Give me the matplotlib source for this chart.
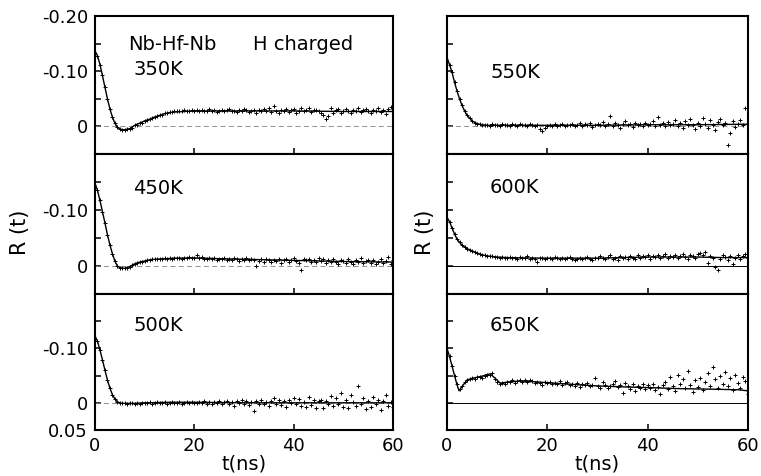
import numpy as np
import matplotlib
matplotlib.use('Agg')
import matplotlib.pyplot as plt

# fitted curves, R(t)
c350_t = [0, 0.5, 1, 1.5, 2, 2.5, 3, 3.5, 4, 4.5, 5, 5.5, 6, 7, 8, 9, 10, 11, 12, 13, 14, 15, 16, 18, 20, 25, 30, 40, 50, 60]
c350_r = [-0.137, -0.128, -0.112, -0.092, -0.071, -0.050, -0.032, -0.017, -0.006, 0.001, 0.005, 0.006, 0.006, 0.004,
          -0.002, -0.006, -0.010, -0.013, -0.017, -0.020, -0.023, -0.025, -0.026, -0.027, -0.028, -0.028, -0.028,
          -0.028, -0.027, -0.027]

c450_t = [0, 0.5, 1, 1.5, 2, 2.5, 3, 3.5, 4, 4.5, 5, 5.5, 6, 7, 8, 9, 10, 11, 12, 14, 16, 20, 25, 30, 40, 50, 60]
c450_r = [-0.148, -0.135, -0.117, -0.097, -0.077, -0.056, -0.038, -0.022, -0.009, 0.000, 0.003, 0.004, 0.004, 0.001,
          -0.004, -0.007, -0.009, -0.011, -0.012, -0.013, -0.014, -0.0145, -0.013, -0.012, -0.010, -0.008, -0.007]

c500_t = [0, 0.5, 1, 1.5, 2, 2.5, 3, 3.5, 4, 4.5, 5, 5.5, 6, 7, 8, 10, 15, 20, 30, 40, 50, 60]
c500_r = [-0.123, -0.113, -0.097, -0.079, -0.060, -0.042, -0.027, -0.015, -0.007, -0.002, 0.000, 0.001, 0.001, 0.001,
          0.001, 0.000, -0.001, -0.001, 0.000, 0.000, 0.000, 0.000]

c550_t = [0, 0.5, 1, 1.5, 2, 2.5, 3, 3.5, 4, 5, 6, 7, 8, 10, 15, 20, 30, 40, 50, 60]
c550_r = [-0.125, -0.112, -0.098, -0.080, -0.064, -0.050, -0.038, -0.028, -0.020, -0.010, -0.005, -0.003, -0.002,
          -0.002, -0.002, -0.002, -0.002, -0.003, -0.003, -0.004]

c600_t = [0, 0.5, 1, 1.5, 2, 2.5, 3, 4, 5, 6, 7, 8, 9, 10, 12, 15, 20, 25, 30, 35, 40, 45, 50, 55, 60]
c600_r = [-0.087, -0.079, -0.068, -0.057, -0.048, -0.042, -0.037, -0.031, -0.027, -0.023, -0.020, -0.018, -0.017,
          -0.016, -0.015, -0.0145, -0.014, -0.014, -0.014, -0.015, -0.016, -0.016, -0.016, -0.015, -0.015]

c650_t = [0, 0.5, 1, 1.5, 2, 2.4, 3, 4, 5, 6, 7, 8, 8.6, 9.5, 10.6, 12, 14.5, 17, 20, 23, 26.5, 30, 33, 36, 40,
          46.5, 53, 58, 60]
c650_r = [-0.100, -0.085, -0.068, -0.050, -0.033, -0.022, -0.030, -0.042, -0.045, -0.047, -0.049, -0.052, -0.053,
          -0.046, -0.036, -0.038, -0.040, -0.039, -0.037, -0.035, -0.033, -0.031, -0.030, -0.029, -0.028, -0.026,
          -0.025, -0.024, -0.022]

# measured points, every 0.5 ns from 0.5 to 60 ns, in units of 1e-3
d350 = [-128, -112, -93, -71, -50, -32, -17, -6, 1, 5,
        6, 6, 5, 4, 2, -2, -3, -6, -7, -10,
        -11, -13, -15, -17, -18, -21, -21, -24, -24, -26,
        -26, -27, -27, -28, -27, -29, -28, -27, -29, -28,
        -30, -27, -29, -28, -27, -31, -28, -29, -26, -28,
        -30, -27, -29, -31, -27, -28, -26, -30, -28, -32,
        -29, -26, -28, -30, -25, -29, -27, -31, -28, -33,
        -26, -37, -28, -24, -30, -27, -32, -26, -29, -31,
        -25, -28, -33, -27, -30, -34, -26, -29, -29, -27,
        -24, -20, -13, -19, -33, -25, -29, -31, -24, -28,
        -32, -27, -25, -30, -28, -33, -26, -29, -31, -27,
        -24, -30, -28, -34, -26, -29, -23, -31, -36, -27]

d450 = [-135, -117, -97, -77, -56, -38, -22, -9, 0, 3,
        4, 4, 3, 1, -1, -4, -5, -7, -8, -9,
        -10, -11, -12, -12, -13, -13, -12, -14, -13, -14,
        -13, -14, -15, -14, -13, -15, -14, -16, -14, -15,
        -19, -14, -16, -13, -12, -14, -13, -15, -11, -13,
        -12, -14, -11, -13, -10, -14, -12, -9, -13, -11,
        -14, -10, -12, -10, 0, -9, -13, -8, -12, -10,
        -7, -11, -9, -13, -6, -10, -12, -8, -11, -14,
        -9, -6, 8, -12, -10, -13, -7, -11, -8, -15,
        -9, -12, -5, -10, -7, -13, -8, -4, -11, -9,
        -6, -12, -8, -3, -10, -7, -14, -5, -9, -11,
        -6, -10, -3, -8, -13, -5, -9, -16, -4, -10]

d500 = [-113, -97, -79, -60, -42, -27, -15, -7, -2, 0,
        1, 1, 2, 0, 1, 3, 0, 2, 1, 0,
        1, -1, 2, 0, -2, 1, 0, -1, 2, 0,
        -1, 1, 0, -2, 2, 0, -1, 1, -2, 0,
        1, -2, 0, -3, 2, -1, 3, -2, 0, -4,
        2, -1, -4, 3, -2, 5, -3, 1, -5, 2,
        -3, 4, -2, 15, -4, 2, -6, 3, -1, 5,
        -4, -9, 2, -6, 4, -3, 7, -5, 1, -8,
        3, -7, 6, -2, 8, -10, 4, -5, 9, -3,
        -6, 10, -4, 2, -12, 5, -8, 3, -18, 7,
        -5, 9, -14, -2, 6, -30, 2, -9, 11, -4,
        7, -11, 3, -6, 13, -3, -15, 5, -2, 8]

d550 = [-112, -98, -80, -64, -50, -38, -28, -20, -15, -10,
        -7, -5, -4, -3, -2, -3, -1, -4, -2, -3,
        -1, -4, -2, -3, 0, -5, -2, -1, -4, -2,
        -3, 0, -5, -2, -1, -3, 4, 9, 2, -1,
        -3, -1, -4, 0, -2, -5, -1, -3, -2, -4,
        0, -3, -6, -1, -4, -2, -7, 1, -3, -5,
        -2, -8, 0, -4, -18, -1, -6, -3, 2, -5,
        -9, -2, -4, 1, -7, -3, -5, -1, -6, -2,
        -4, -10, -1, -17, -3, -6, 0, -8, -2, -5,
        -12, -1, -6, 3, -9, -3, -14, -2, 4, -7,
        -1, -15, -5, 2, -11, -3, 6, -8, -13, -2,
        -6, 34, 12, -9, 1, -4, -12, -2, -34, -5]

d600 = [-79, -68, -57, -48, -42, -37, -34, -31, -29, -27,
        -25, -23, -22, -20, -19, -18, -17, -17, -16, -16,
        -15, -16, -14, -15, -16, -14, -15, -13, -16, -14,
        -15, -17, -13, -14, -12, -7, -14, -15, -13, -14,
        -15, -13, -16, -14, -12, -15, -13, -14, -16, -13,
        -11, -13, -15, -12, -14, -16, -13, -11, -15, -14,
        -17, -14, -12, -16, -19, -13, -15, -11, -17, -14,
        -16, -13, -18, -15, -12, -20, -14, -17, -16, -19,
        -13, -18, -16, -20, -14, -17, -21, -15, -18, -16,
        -19, -14, -17, -22, -16, -13, -20, -18, -15, -22,
        -24, -20, -25, -6, -17, -14, 2, 8, -12, -19,
        -16, -10, -18, -3, -14, -20, -12, -17, -22, -15]

d650 = [-86, -67, -50, -34, -25, -30, -38, -42, -44, -45,
        -44, -47, -48, -46, -50, -52, -51, -54, -44, -38,
        -35, -37, -34, -39, -38, -41, -37, -40, -42, -39,
        -41, -38, -42, -40, -36, -39, -37, -33, -38, -36,
        -39, -34, -37, -35, -40, -32, -36, -38, -33, -35,
        -31, -36, -29, -34, -32, -37, -30, -33, -45, -31,
        -28, -38, -33, -27, -31, -35, -40, -29, -32, -18,
        -36, -30, -26, -34, -22, -31, -28, -35, -25, -33,
        -27, -34, -24, -29, -16, -32, -38, -26, -48, -30,
        -22, -52, -35, -44, -27, -58, -33, -19, -41, -29,
        -46, -24, -38, -55, -31, -66, -43, -27, -50, -35,
        -57, -30, -45, -24, -52, -36, -28, -48, -40, -17]

labels = ['350K', '450K', '500K', '550K', '600K', '650K']
curves = [(c350_t, c350_r), (c450_t, c450_r), (c500_t, c500_r),
          (c550_t, c550_r), (c600_t, c600_r), (c650_t, c650_r)]
points = [d350, d450, d500, d550, d600, d650]

yticks = [-0.20, -0.15, -0.10, -0.05, 0, 0.05]
left_ylabels = [['-0.20', '', '-0.10', '', '0', ''],
                ['', '', '-0.10', '', '0', ''],
                ['', '', '-0.10', '', '0', '0.05']]

plt.rcParams['font.family'] = 'DejaVu Sans'

fig = plt.figure(figsize=(7.61, 4.76), dpi=100)

col_x = [(95, 298), (447, 301)]
row_y = [(16, 138), (154, 140), (294, 136)]
label_pos = [(0.128, 0.609), (0.128, 0.757), (0.128, 0.765),
             (0.143, 0.594), (0.143, 0.764), (0.143, 0.765)]

for i in range(6):
    col, row = divmod(i, 3)
    x0, w = col_x[col]
    y0, h = row_y[row]
    ax = fig.add_axes([x0 / 761, 1 - (y0 + h) / 476, w / 761, h / 476])

    ct, cr = curves[i]
    r = np.array(points[i]) / 1000.0
    t = 0.5 + 0.5 * np.arange(len(r))

    if i >= 4:
        ax.axhline(0, color='black', lw=0.7)
    else:
        ax.axhline(0, color='gray', lw=0.6, ls=(0, (6, 4)))
    ax.plot(ct, cr, color='black', lw=1.0)
    ax.plot(t, r, ls='none', marker='+', ms=2.6, mew=0.7, color='black')

    ax.set_xlim(0, 60)
    ax.set_ylim(0.05, -0.20)
    ax.set_xticks([0, 20, 40, 60])
    ax.set_yticks(yticks)
    if col == 0:
        ax.set_yticklabels(left_ylabels[row])
    else:
        ax.set_yticklabels([''] * 6)
    if row == 2:
        ax.set_xticklabels(['0', '20', '40', '60'])
        ax.text(0.5, -0.25, 't(ns)', transform=ax.transAxes, ha='center', va='center', fontsize=14)
    else:
        ax.set_xticklabels([])
    ax.tick_params(direction='in', length=4, width=1.1, labelsize=13)
    ax.tick_params(axis='x', pad=5)
    ax.tick_params(axis='y', pad=5)
    for s in ax.spines.values():
        s.set_linewidth(1.5)

    lx, ly = label_pos[i]
    ax.text(lx, ly, labels[i], transform=ax.transAxes, ha='left', va='center', fontsize=14)
    if i == 0:
        ax.text(0.111, 0.79, 'Nb-Hf-Nb', transform=ax.transAxes, ha='left', va='center', fontsize=14)
        ax.text(0.530, 0.79, 'H charged', transform=ax.transAxes, ha='left', va='center', fontsize=14)

fig.text(20 / 761, 1 - 232 / 476, 'R (t)', rotation=90, ha='center', va='center', fontsize=15)
fig.text(425 / 761, 1 - 232 / 476, 'R (t)', rotation=90, ha='center', va='center', fontsize=15)

plt.savefig('out.png', dpi=100)
